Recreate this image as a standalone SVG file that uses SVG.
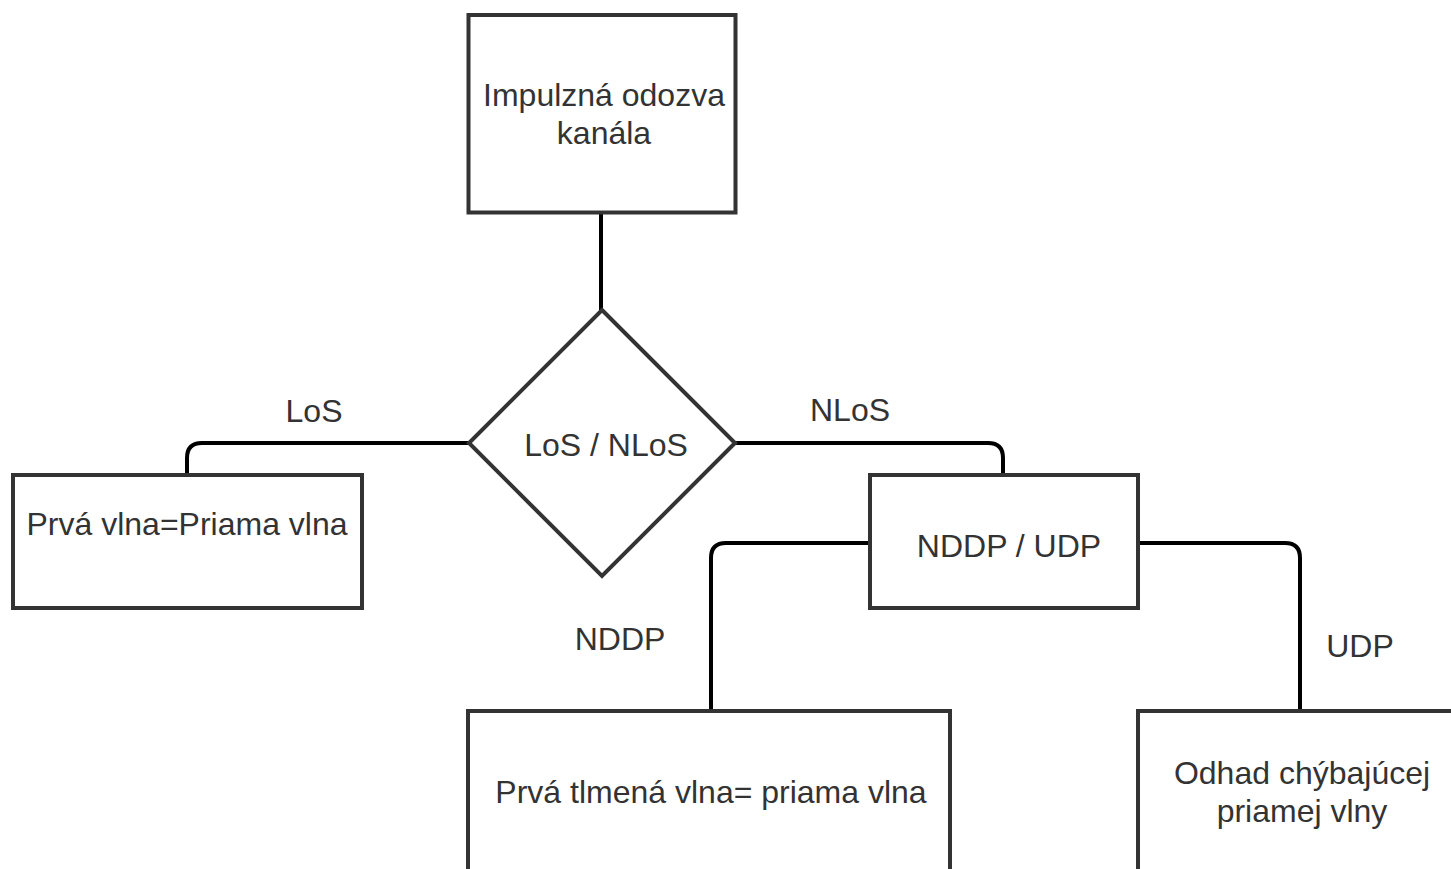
<svg xmlns="http://www.w3.org/2000/svg" width="1451" height="869" viewBox="0 0 1451 869">
<style>
.box{fill:#fff;stroke:#333;stroke-width:4}
.conn{fill:none;stroke:#000;stroke-width:4}
.t{font-family:"Liberation Sans",Arial,sans-serif;font-size:32px;fill:#333;text-anchor:middle}
</style>
<rect width="1451" height="869" fill="#fff"/>
<g id="connectors">
<path class="conn" d="M601,212 V310"/>
<path class="conn" d="M469,443 H202 Q187,443 187,458 V475"/>
<path class="conn" d="M735,443 H988 Q1003,443 1003,458 V475"/>
<path class="conn" d="M870,543 H726 Q711,543 711,558 V711"/>
<path class="conn" d="M1138,543 H1285 Q1300,543 1300,558 V711"/>
<text class="t" x="314" y="422">LoS</text>
<text class="t" x="850" y="421">NLoS</text>
<text class="t" x="620" y="650">NDDP</text>
<text class="t" x="1360" y="657">UDP</text>
</g>
<g id="n-impulz">
<rect class="box" x="468.5" y="15" width="267" height="197.5"/>
<text class="t" x="604" y="106">Impulzná odozva</text>
<text class="t" x="604" y="144">kanála</text>
</g>
<g id="n-los-nlos">
<polygon class="box" points="602,310 735,443 602,576 469,443"/>
<text class="t" x="606" y="456">LoS / NLoS</text>
</g>
<g id="n-prva">
<rect class="box" x="13" y="475" width="349" height="133"/>
<text class="t" x="187" y="535">Prvá vlna=Priama vlna</text>
</g>
<g id="n-nddp-udp">
<rect class="box" x="870" y="475" width="268" height="133"/>
<text class="t" x="1009" y="557">NDDP / UDP</text>
</g>
<g id="n-prva-tlmena">
<rect class="box" x="468" y="711" width="482" height="200"/>
<text class="t" x="711" y="803">Prvá tlmená vlna= priama vlna</text>
</g>
<g id="n-odhad">
<rect class="box" x="1138" y="711" width="400" height="200"/>
<text class="t" x="1302" y="784">Odhad chýbajúcej</text>
<text class="t" x="1302" y="822">priamej vlny</text>
</g>
</svg>
